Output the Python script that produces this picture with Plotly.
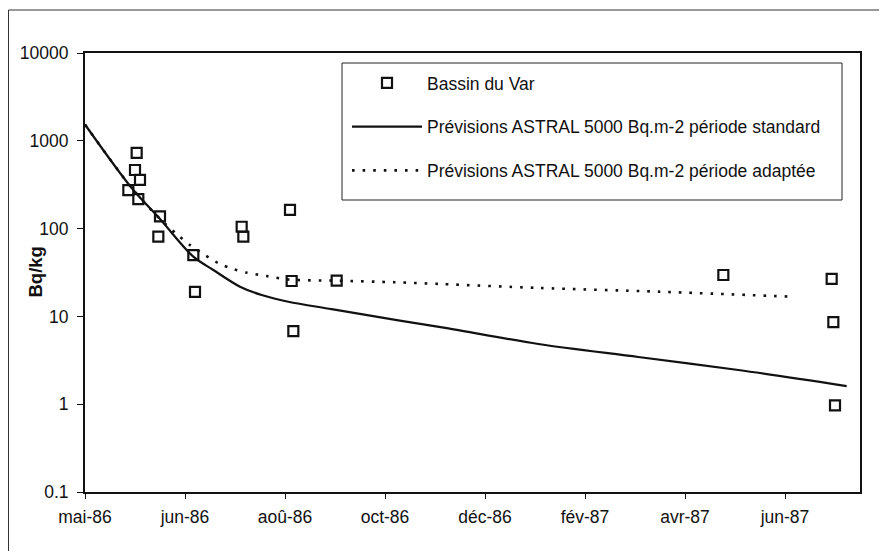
import plotly.graph_objects as go

# ---- data ----
obs_dates = ["1986-06-01", "1986-05-31", "1986-06-03", "1986-05-27", "1986-06-02",
             "1986-06-15", "1986-06-14", "1986-07-05", "1986-07-06", "1986-08-03",
             "1986-08-04", "1986-09-01", "1986-09-02", "1986-09-03", "1986-09-29",
             "1987-05-19", "1987-07-23", "1987-07-24", "1987-07-25"]
obs_values = [730, 465, 358, 275, 217, 138, 81, 50, 19, 105,
              81, 163, 25.3, 6.8, 25.5, 29.6, 26.7, 8.6, 0.97]

std_dates = ["1986-05-01", "1986-05-29", "1986-06-15", "1986-07-05", "1986-07-17",
             "1986-08-02", "1986-08-15", "1986-08-31", "1986-09-26", "1986-11-05",
             "1986-12-05", "1987-01-28", "1987-03-29", "1987-05-28", "1987-08-01"]
std_values = [1534, 290, 128.6, 47.9, 33.8, 21.8, 17.5, 14.7, 12.1, 9.0,
              7.3, 4.85, 3.45, 2.45, 1.61]

adp_dates = ["1986-05-01", "1986-05-29", "1986-06-15", "1986-06-25", "1986-07-03",
             "1986-07-12", "1986-07-21", "1986-07-29", "1986-08-06", "1986-08-18",
             "1986-08-31", "1986-09-29", "1986-11-03", "1986-11-30", "1987-01-28",
             "1987-04-11", "1987-06-28"]
adp_values = [1534, 290, 128.6, 86.8, 65.0, 50.0, 39.5, 34.7, 31.5, 28.8,
              26.3, 25.5, 24.5, 23.4, 21.1, 19.1, 16.8]

x_tick_vals = ["1986-05-01", "1986-06-30", "1986-08-29", "1986-10-28",
               "1986-12-27", "1987-02-25", "1987-04-26", "1987-06-25"]
x_tick_text = ["mai-86", "jun-86", "aoû-86", "oct-86", "déc-86", "fév-87", "avr-87", "jun-87"]
y_tick_vals = [0.1, 1, 10, 100, 1000, 10000]
y_tick_text = ["0.1", "1", "10", "100", "1000", "10000"]

series_names = ["Bassin du Var",
                "Prévisions ASTRAL 5000 Bq.m-2 période standard",
                "Prévisions ASTRAL 5000 Bq.m-2 période adaptée"]

FONT = "Liberation Sans, Arial, sans-serif"
INK = "#111111"
FS = 17.5

fig = go.Figure()
fig.add_trace(go.Scatter(
    x=obs_dates, y=obs_values, mode="markers", name=series_names[0],
    legendgroup="a",
    marker=dict(symbol="square-open", size=10, color=INK, line=dict(width=2.2, color=INK)),
))
fig.add_trace(go.Scatter(
    x=std_dates, y=std_values, mode="lines", name=series_names[1],
    legendgroup="b",
    line=dict(color=INK, width=2.2, shape="spline", smoothing=0.9),
))
fig.add_trace(go.Scatter(
    x=adp_dates, y=adp_values, mode="lines", name=series_names[2],
    legendgroup="c",
    line=dict(color=INK, width=2.6, dash="2.6px,8px", shape="spline", smoothing=0.8),
))

# page offset of the figure (default body margin)
OFF = 8
W, H = 871, 543
# plot area in page pixels: x 85..860, y 53..492
L, R, T, B = 85 - OFF, W - (860 - OFF), 53 - OFF, H - (492 - OFF)
pw, ph = W - L - R, H - T - B

def px_x(p):
    """page x pixel -> paper coordinate"""
    return (p - OFF - L) / pw

def px_y(p):
    """page y pixel -> paper coordinate"""
    return (H - B - (p - OFF)) / ph

shapes = [
    # legend frame
    dict(type="rect", xref="paper", yref="paper",
         x0=px_x(342), x1=px_x(842), y0=px_y(200), y1=px_y(63),
         line=dict(color="#222222", width=1), fillcolor="white", layer="below"),
    # outer chart border (left & top visible)
    dict(type="line", xref="paper", yref="paper",
         x0=px_x(8.5), x1=px_x(8.5), y0=px_y(10), y1=px_y(600),
         line=dict(color="#333333", width=1)),
    dict(type="line", xref="paper", yref="paper",
         x0=px_x(8.5), x1=px_x(900), y0=px_y(10), y1=px_y(10),
         line=dict(color="#333333", width=1)),
]

fig.update_layout(
    width=W, height=H,
    margin=dict(l=L, r=R, t=T, b=B, autoexpand=False),
    paper_bgcolor="white", plot_bgcolor="white",
    font=dict(family=FONT, size=FS, color=INK),
    shapes=shapes,
    showlegend=True,
    legend=dict(
        x=px_x(347), y=px_y(65), xanchor="left", yanchor="top",
        bgcolor="rgba(0,0,0,0)", borderwidth=0,
        itemwidth=70, tracegroupgap=18,
        font=dict(family=FONT, size=FS, color=INK),
    ),
    annotations=[dict(
        text="<b>Bq/kg</b>", xref="paper", yref="paper",
        x=px_x(35), y=0.5, xanchor="center", yanchor="middle",
        textangle=-90, showarrow=False, font=dict(family=FONT, size=18.5, color=INK),
    )],
    xaxis=dict(
        type="date", range=["1986-05-01", "1987-08-09"],
        tickmode="array", tickvals=x_tick_vals, ticktext=x_tick_text,
        ticks="outside", ticklen=5, tickwidth=1, tickcolor=INK,
        showline=True, linecolor=INK, linewidth=2, mirror=True,
        showgrid=False, zeroline=False, ticklabelstandoff=3,
        tickfont=dict(family=FONT, size=FS, color=INK),
    ),
    yaxis=dict(
        type="log", range=[-1, 4],
        tickmode="array", tickvals=y_tick_vals, ticktext=y_tick_text,
        ticks="outside", ticklen=6, tickwidth=1, tickcolor=INK,
        showline=True, linecolor=INK, linewidth=2, mirror=True,
        showgrid=False, zeroline=False, ticklabelstandoff=5,
        tickfont=dict(family=FONT, size=FS, color=INK),
    ),
)

fig.write_html("out.html")
